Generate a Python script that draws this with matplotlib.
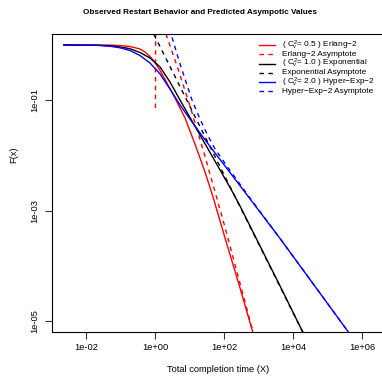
import matplotlib
matplotlib.use('Agg')
import matplotlib.pyplot as plt
from matplotlib.lines import Line2D
from matplotlib.ticker import NullLocator

plt.rcParams['font.family'] = ['Liberation Sans', 'DejaVu Sans']
plt.rcParams['mathtext.fontset'] = 'custom'
plt.rcParams['mathtext.rm'] = 'Liberation Sans'
plt.rcParams['mathtext.it'] = 'Liberation Sans'
plt.rcParams['mathtext.bf'] = 'Liberation Sans:bold'

# ---- data ----
erlang_x = [0.0023, 0.0496, 0.0968, 0.188, 0.367, 0.513, 0.716, 1.0, 1.40, 1.95,
            3.80, 7.41, 14.4, 28.1, 48.0, 107, 291, 679, 1000]
erlang_y = [1.0, 0.998, 0.977, 0.941, 0.848, 0.748, 0.620, 0.483, 0.346, 0.2375,
            0.1098, 0.0477, 0.0161, 0.00501, 0.00177, 3.19e-4, 3.97e-5, 6.33e-6, 2.75e-6]

erlang_asym_x = [1.03, 1.05, 2.08, 4.64, 10.3, 28.1, 107, 693, 1000]
erlang_asym_y = [0.0723, 15.0, 1.585, 0.371, 0.0787, 0.00965, 4.99e-4, 6.33e-6, 2.75e-6]

expo_x = [0.0023, 0.0255, 0.0693, 0.135, 0.188, 0.367, 0.716, 1.40, 2.72, 5.31,
          10.3, 20.1, 39.3, 76.6, 167, 291, 1104, 4200, 19100, 31100]
expo_y = [1.0, 0.989, 0.949, 0.891, 0.858, 0.733, 0.582, 0.400, 0.214, 0.101,
          0.0487, 0.0235, 0.0113, 0.00545, 0.00232, 0.00121, 2.29e-4, 4.32e-5, 6.33e-6, 3.44e-6]

expo_asym_x = [0.716, 31100]
expo_asym_y = [2.16, 3.44e-6]

hyper_x = [0.0023, 0.0182, 0.0496, 0.0968, 0.188, 0.367, 0.716, 1.40, 2.72, 5.31,
           10.3, 20.1, 54.8, 149, 567, 4200, 4.01e5, 8.75e5]
hyper_y = [1.0, 0.993, 0.952, 0.891, 0.796, 0.646, 0.473, 0.299, 0.1598, 0.0820,
           0.0457, 0.0255, 0.01107, 0.00491, 0.00163, 3.13e-4, 6.33e-6, 3.25e-6]

hyper_asym_x = [2.38, 2.91, 5.31, 11.8, 20.1, 32.1, 54.8, 149, 567, 4200, 4.01e5, 8.75e5]
hyper_asym_y = [2.84, 1.585, 0.453, 0.101, 0.0457, 0.0245, 0.0131, 0.00534, 0.00169,
                3.13e-4, 6.33e-6, 3.25e-6]

x_ticks = [1e-2, 1e0, 1e2, 1e4, 1e6]
x_tick_labels = ['1e-02', '1e+00', '1e+02', '1e+04', '1e+06']
y_ticks = [1e-1, 1e-3, 1e-5]
y_tick_labels = ['1e-01', '1e-03', '1e-05']

legend_labels = [r'( $C_v^2$= 0.5 ) Erlang−2',
                 'Erlang−2 Asymptote',
                 r'( $C_v^2$= 1.0 ) Exponential',
                 'Exponential Asymptote',
                 r'( $C_v^2$= 2.0 ) Hyper−Exp−2',
                 'Hyper−Exp−2 Asymptote']

title = 'Observed Restart Behavior and Predicted Asympotic Values'
xlabel = 'Total completion time (X)'
ylabel = 'F(x)'

# ---- figure ----
W, H = 382, 378
fig = plt.figure(figsize=(W / 100, H / 100), dpi=100)
ax = fig.add_axes([52 / W, 1 - 332 / H, 332 / W, 298 / H])
ax.set_xscale('log')
ax.set_yscale('log')

lw = 1.0
dash = (0, (3.2, 3.2))
series = [
    (erlang_x, erlang_y, '#FF0000', '-'),
    (erlang_asym_x, erlang_asym_y, '#FF0000', dash),
    (expo_x, expo_y, '#000000', '-'),
    (expo_asym_x, expo_asym_y, '#000000', dash),
    (hyper_x, hyper_y, '#0000FF', '-'),
    (hyper_asym_x, hyper_asym_y, '#0000FF', dash),
]
for xs, ys, c, ls in series:
    ax.plot(xs, ys, color=c, linestyle=ls, linewidth=lw)

ax.set_xlim(10 ** -2.986, 10 ** 6.638)
ax.set_ylim(10 ** -5.2, 10 ** 0.2)

ax.set_xticks(x_ticks)
ax.set_xticklabels(x_tick_labels)
ax.set_yticks(y_ticks)
ax.set_yticklabels(y_tick_labels)
ax.xaxis.set_minor_locator(NullLocator())
ax.yaxis.set_minor_locator(NullLocator())
ax.tick_params(axis='both', direction='out', length=5, width=0.8, labelsize=6.7, color='#333333')
ax.tick_params(axis='x', pad=3)
ax.tick_params(axis='y', pad=4)
for lab in ax.get_yticklabels():
    lab.set_rotation(90)
    lab.set_va('center')
for sp in ax.spines.values():
    sp.set_linewidth(0.8)

# title & labels
fig.text(200 / W, 1 - 12.5 / H, title, ha='center', va='center', fontsize=5.9, fontweight='bold')
fig.text(218 / W, 1 - 369 / H, xlabel, ha='center', va='center', fontsize=6.7)
fig.text(13.5 / W, 1 - 155 / H, ylabel, ha='center', va='center', fontsize=6.7, rotation=90)

# legend (no box), drawn manually
colors = ['#FF0000', '#FF0000', '#000000', '#000000', '#0000FF', '#0000FF']
styles = ['-', dash, '-', dash, '-', dash]
for i, (lab, c, ls) in enumerate(zip(legend_labels, colors, styles)):
    yy = 1 - (45 + 9.27 * i) / H
    fig.add_artist(Line2D([259 / W, 275 / W], [yy, yy], transform=fig.transFigure,
                          color=c, linestyle=ls, linewidth=lw))
    fig.text(281.5 / W, yy, lab, ha='left', va='center', fontsize=5.95)

fig.savefig('out.png', dpi=100)
